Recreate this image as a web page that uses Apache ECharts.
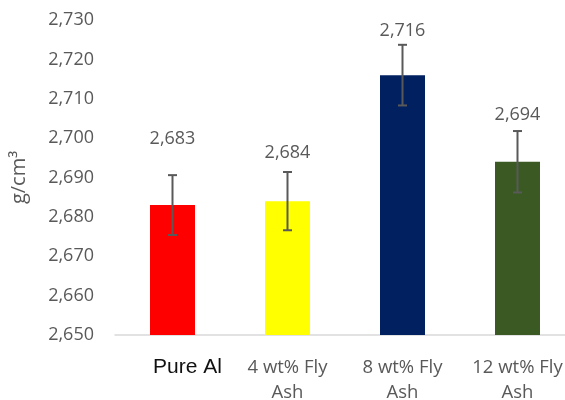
<!DOCTYPE html>
<html><head><meta charset="utf-8">
<script src="https://cdn.jsdelivr.net/npm/echarts@6/dist/echarts.min.js"></script>
<style>html,body{margin:0;padding:0;background:#fff}#c{width:565px;height:400px}</style>
</head><body><div id="c"></div>
<script>
var categories = ['Pure Al', '4 wt% Fly\nAsh', '8 wt% Fly\nAsh', '12 wt% Fly\nAsh'];
var densities = [2.683, 2.684, 2.716, 2.694];
var errors = [0.0076, 0.0074, 0.0077, 0.0078];
var yTicks = [2.650, 2.660, 2.670, 2.680, 2.690, 2.700, 2.710, 2.720, 2.730];

var barColors = ['#ff0000', '#ffff00', '#002060', '#3b5a23'];
var labelDistance = [57, 39, 35, 38];
function fmt(v){ return v.toFixed(3).replace('.', ','); }

var chart = echarts.init(document.getElementById('c'), null, {renderer:'canvas'});
chart.setOption({
  animation:false,
  grid:{left:115, top:20, width:460, height:315, containLabel:false, outerBoundsMode:'none'},
  xAxis:{type:'category', data:categories,
    axisLine:{lineStyle:{color:'#d9d9d9', width:1.5}}, axisTick:{show:false},
    axisLabel:{interval:0, margin:20, color:'#595959', fontFamily:'Open Sans', fontSize:18.5, lineHeight:25,
      formatter:function(v, i){ return i===0 ? '{p|'+v+'}' : v; },
      rich:{p:{fontFamily:'Liberation Sans', fontSize:21, color:'#111', lineHeight:25, padding:[0,0,0,30]}}}},
  yAxis:{type:'value', min:yTicks[0], max:yTicks[yTicks.length-1], interval:0.01,
    name:'g/cm³', nameLocation:'middle', nameGap:86, nameRotate:90,
    nameTextStyle:{color:'#595959', fontFamily:'Open Sans', fontSize:20},
    axisLine:{show:false}, axisTick:{show:false}, splitLine:{show:false},
    axisLabel:{margin:21, color:'#595959', fontFamily:'Open Sans', fontSize:18, formatter:function(v){return fmt(v);}}},
  series:[{
    type:'bar', barWidth:45,
    data:densities.map(function(v,i){return {value:v, itemStyle:{color:barColors[i]}, label:{distance:labelDistance[i]}};}),
    label:{show:true, position:'top', color:'#595959', fontFamily:'Open Sans', fontSize:18, formatter:function(p){return fmt(p.value);}}
  },{
    type:'custom', z:10,
    data:densities.map(function(v,i){return [i, v-errors[i], v+errors[i]];}),
    renderItem:function(params, api){
      var lo = api.coord([api.value(0), api.value(1)]);
      var hi = api.coord([api.value(0), api.value(2)]);
      var w = 4.5;
      var st = {stroke:'#595959', lineWidth:2};
      return {type:'group', children:[
        {type:'line', shape:{x1:lo[0], y1:lo[1], x2:hi[0], y2:hi[1]}, style:st},
        {type:'line', shape:{x1:lo[0]-w, y1:lo[1], x2:lo[0]+w, y2:lo[1]}, style:st},
        {type:'line', shape:{x1:hi[0]-w, y1:hi[1], x2:hi[0]+w, y2:hi[1]}, style:st}
      ]};
    }
  }]
});
</script></body></html>
